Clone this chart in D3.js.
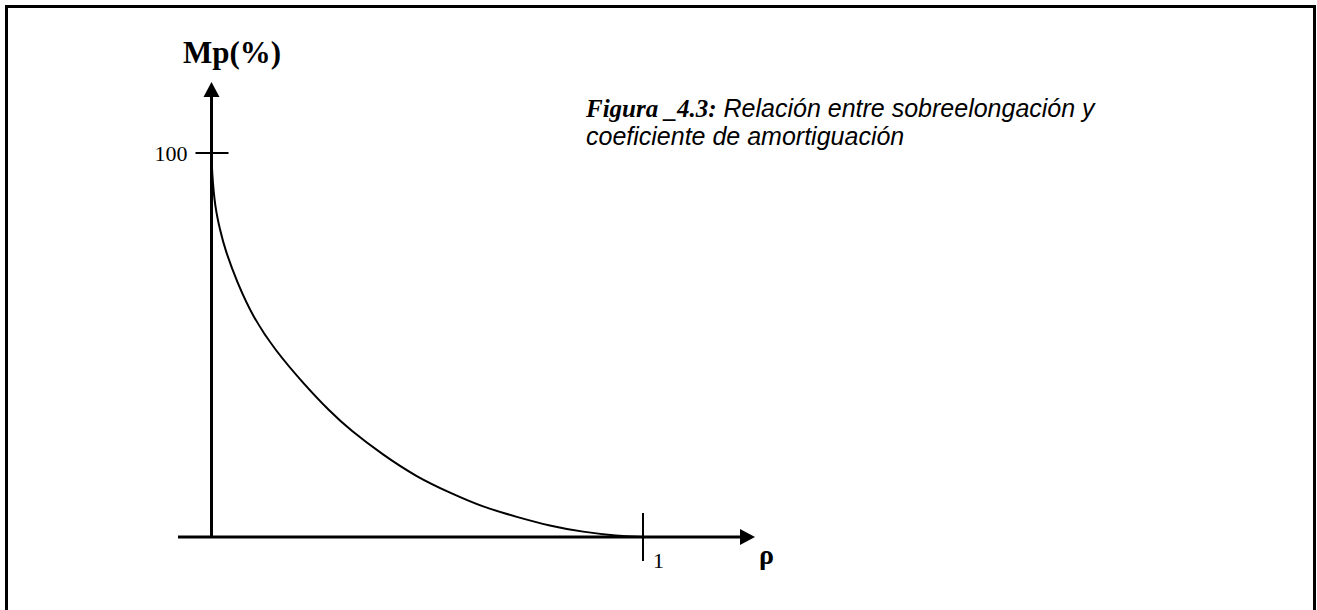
<!DOCTYPE html>
<html>
<head>
<meta charset="utf-8">
<script src="https://cdn.jsdelivr.net/npm/d3@7"></script>
<style>
  html, body { margin: 0; padding: 0; background: #fff; }
  svg { display: block; }
</style>
</head>
<body>
<svg id="chart" width="1317" height="610"></svg>
<script>
// Damping ratio (rho) and peak overshoot Mp (%) along the curve
const rho = [0, 0.001, 0.008, 0.020, 0.031, 0.059, 0.096, 0.147, 0.212, 0.275,
             0.321, 0.397, 0.476, 0.553, 0.629, 0.708, 0.784, 0.861, 0.940, 1.0];
const mp  = [100, 95.1, 85.9, 79.9, 75.0, 66.4, 57.3, 48.7, 40.1, 32.6,
             27.9, 21.4, 15.6, 11.5, 7.8, 5.2, 2.9, 1.3, 0.3, 0];
const yTicks = [100];
const xTicks = [1];
const yTitle = "Mp(%)";
const xTitle = "ρ";

const svg = d3.select("#chart");

// Frame
svg.append("rect")
  .attr("x", 6.5).attr("y", 6.5)
  .attr("width", 1308).attr("height", 640)
  .attr("fill", "none").attr("stroke", "#000").attr("stroke-width", 3);

const x = d3.scaleLinear().domain([0, 1]).range([211.5, 643]);
const y = d3.scaleLinear().domain([0, 100]).range([537, 153]);

// Y axis with arrow
const yTop = 97;
svg.append("line")
  .attr("x1", x(0)).attr("x2", x(0))
  .attr("y1", y(0)).attr("y2", yTop)
  .attr("stroke", "#000").attr("stroke-width", 3);
svg.append("path")
  .attr("d", `M${x(0) - 8},${yTop} L${x(0) + 8},${yTop} L${x(0)},${yTop - 15} Z`)
  .attr("fill", "#000");

// X axis with arrow
const xStart = 178, xEnd = 740;
svg.append("line")
  .attr("x1", xStart).attr("x2", xEnd)
  .attr("y1", y(0)).attr("y2", y(0))
  .attr("stroke", "#000").attr("stroke-width", 3);
svg.append("path")
  .attr("d", `M${xEnd},${y(0) - 8} L${xEnd},${y(0) + 8} L${xEnd + 15},${y(0)} Z`)
  .attr("fill", "#000");

// Y ticks
yTicks.forEach(v => {
  svg.append("line")
    .attr("x1", x(0) - 16).attr("x2", x(0) + 17)
    .attr("y1", y(v)).attr("y2", y(v))
    .attr("stroke", "#000").attr("stroke-width", 2);
  svg.append("text")
    .attr("x", x(0) - 24).attr("y", y(v) + 8)
    .attr("text-anchor", "end")
    .attr("font-family", "Liberation Serif, Times New Roman, serif")
    .attr("font-size", 22)
    .text(v);
});

// X ticks
xTicks.forEach(v => {
  svg.append("line")
    .attr("x1", x(v)).attr("x2", x(v))
    .attr("y1", y(0) - 24).attr("y2", y(0) + 24)
    .attr("stroke", "#000").attr("stroke-width", 2);
  svg.append("text")
    .attr("x", x(v) + 10).attr("y", y(0) + 31)
    .attr("font-family", "Liberation Serif, Times New Roman, serif")
    .attr("font-size", 22)
    .text(v);
});

// Axis titles
svg.append("text")
  .attr("x", 183).attr("y", 63)
  .attr("font-family", "Liberation Serif, Times New Roman, serif")
  .attr("font-weight", "bold")
  .attr("font-size", 31)
  .text(yTitle);
svg.append("text")
  .attr("x", 759).attr("y", 564)
  .attr("font-family", "Liberation Serif, Times New Roman, serif")
  .attr("font-weight", "bold")
  .attr("font-size", 28)
  .text(xTitle);

// Overshoot curve
const pts = rho.map((r, i) => [r, mp[i]]);
const line = d3.line()
  .x(d => x(d[0]))
  .y(d => y(d[1]))
  .curve(d3.curveBasis);
svg.append("path")
  .datum(pts)
  .attr("d", line)
  .attr("fill", "none")
  .attr("stroke", "#000")
  .attr("stroke-width", 2);

// Caption
const cap = svg.append("text")
  .attr("x", 586).attr("y", 117)
  .attr("font-size", 25);
cap.append("tspan")
  .attr("font-family", "Liberation Serif, Times New Roman, serif")
  .attr("font-weight", "bold").attr("font-style", "italic")
  .text("Figura _4.3:");
cap.append("tspan")
  .attr("font-family", "Liberation Sans, Arial, sans-serif")
  .attr("font-style", "italic")
  .text(" Relación entre sobreelongación y");
svg.append("text")
  .attr("x", 586).attr("y", 145)
  .attr("font-size", 25)
  .attr("font-family", "Liberation Sans, Arial, sans-serif")
  .attr("font-style", "italic")
  .text("coeficiente de amortiguación");
</script>
</body>
</html>
